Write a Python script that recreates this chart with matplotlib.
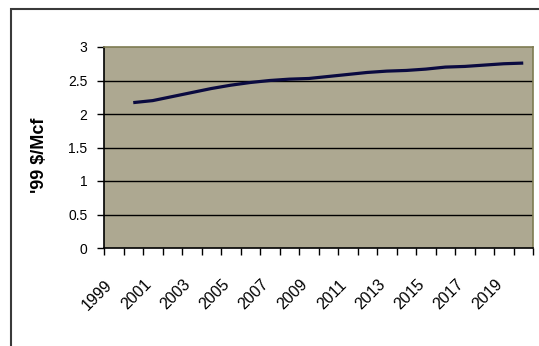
import matplotlib
matplotlib.use("Agg")
import matplotlib.pyplot as plt
from matplotlib.patches import Rectangle
from matplotlib.transforms import blended_transform_factory, offset_copy

# Price projection, constant 1999 dollars per thousand cubic feet
years = [str(y) for y in range(1999, 2021)]
prices = [None, 2.17, 2.20, 2.26, 2.32, 2.38, 2.43, 2.47, 2.50, 2.52, 2.53,
          2.56, 2.59, 2.62, 2.64, 2.65, 2.67, 2.70, 2.71, 2.73, 2.75, 2.76]
y_ticks = [0, 0.5, 1, 1.5, 2, 2.5, 3]
y_tick_labels = ["0", "0.5", "1", "1.5", "2", "2.5", "3"]
y_label = "'99 $/Mcf"

plt.rcParams["font.family"] = ["Liberation Sans", "DejaVu Sans"]

W, H = 539, 346
fig = plt.figure(figsize=(W / 100, H / 100), dpi=100)
fig.patch.set_facecolor("white")

# outer chart frame (runs off the right and bottom edges)
fig.add_artist(Rectangle((11 / W, -0.05), 1.2, 1.05 - 8.5 / H,
                         transform=fig.transFigure, fill=False,
                         edgecolor="#3A3A3A", linewidth=1.5))

left, right, top, bottom = 104, 533, 47, 248
ax = fig.add_axes([left / W, 1 - bottom / H, (right - left) / W, (bottom - top) / H])
ax.set_facecolor("#ADA891")

n = len(years)
xs = [i + 0.5 for i in range(n)]
px = [x for x, v in zip(xs, prices) if v is not None]
py = [v for v in prices if v is not None]
ax.plot(px, py, color="#0A0A40", linewidth=2.3, solid_capstyle="butt", zorder=3)

ax.set_xlim(0, n)
ax.set_ylim(0, 3)
ax.set_yticks(y_ticks)
ax.set_yticklabels(y_tick_labels, fontsize=10)
for yv in y_ticks[1:-1]:
    ax.axhline(yv, color="black", linewidth=1.0, zorder=1)

# ticks between categories, labels on every other category
ax.set_xticks(range(n + 1))
ax.set_xticklabels([])
ax.tick_params(axis="x", direction="out", length=5, width=1)
ax.tick_params(axis="y", direction="out", length=5, width=1, pad=7)

base = blended_transform_factory(ax.transData, ax.transAxes)
lab_tr = offset_copy(base, fig=fig, x=-9 * 0.72, y=-29 * 0.72, units="points")
for x, lab in list(zip(xs, years))[::2]:
    ax.text(x, 0, lab, transform=lab_tr, rotation=45, rotation_mode="anchor",
            ha="right", va="top", fontsize=11.5, clip_on=False)

for side in ("top", "right"):
    ax.spines[side].set_color("#7E7B52")
    ax.spines[side].set_linewidth(1.2)
for side in ("left", "bottom"):
    ax.spines[side].set_color("black")
    ax.spines[side].set_linewidth(1.2)

fig.text(40 / W, 1 - 155 / H, y_label, rotation=90, ha="center", va="center",
         fontsize=13, fontweight="bold")

fig.savefig("out.png", dpi=100)
